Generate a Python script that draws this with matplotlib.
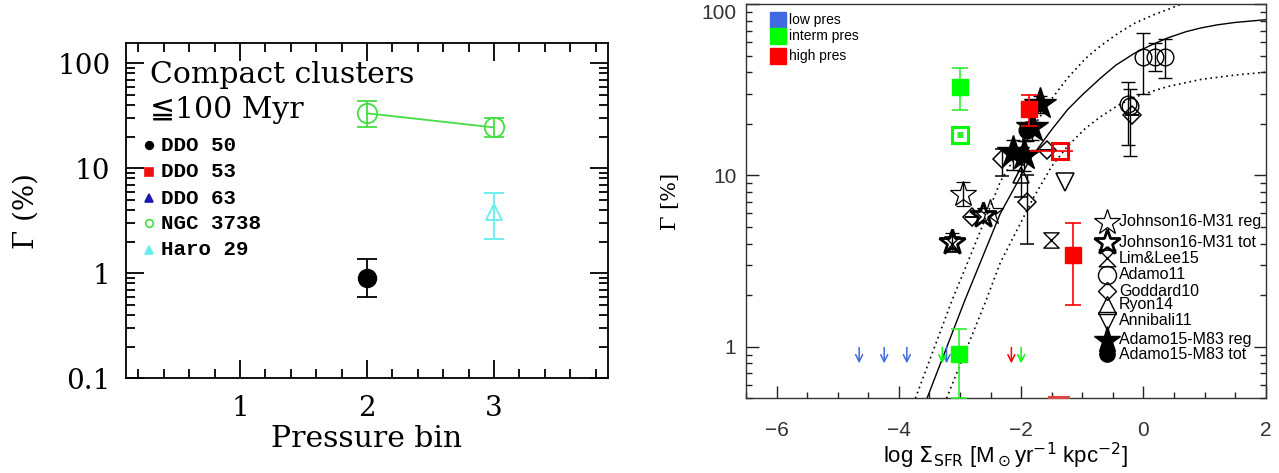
import matplotlib
matplotlib.use("Agg")
import matplotlib.pyplot as plt
from matplotlib.path import Path
from matplotlib.ticker import MultipleLocator, LogLocator, NullFormatter
import numpy as np

# ---- left panel: cluster formation efficiency per pressure bin ----
ngc3738_bin = [2, 3]
ngc3738_gamma = [33.4, 24.5]
ngc3738_lo = [24.9, 19.7]
ngc3738_hi = [43.8, 29.9]

ddo50_bin = [2]
ddo50_gamma = [0.91]
ddo50_lo = [0.59]
ddo50_hi = [1.37]

haro29_bin = [3]
haro29_gamma = [3.86]
haro29_lo = [2.11]
haro29_hi = [5.78]

galaxy_names = ["DDO 50", "DDO 53", "DDO 63", "NGC 3738", "Haro 29"]
galaxy_markers = ["o", "s", "^", "o", "^"]
galaxy_colors = ["black", "#ee1111", "#1a1aaa", "#44dd44", "#66eeee"]
galaxy_filled = [True, True, True, False, True]

left_yticks = [0.1, 1, 10, 100]
left_yticklabels = ["0.1", "1", "10", "100"]
left_xticks = [1, 2, 3]

# ---- right panel: Gamma vs SFR surface density ----
model_x = [-3.54, -2.92, -2.34, -1.85, -1.50, -1.24, -1.00, -0.70, -0.45, -0.15,
           0.10, 0.40, 0.70, 0.94, 1.20, 1.49, 2.0]
model_y = [0.5, 1.87, 6.0, 12.5, 18.5, 24.2, 29.5, 37.0, 44.0, 51.5,
           57.0, 63.5, 69.0, 72.5, 75.5, 78.0, 81.0]
upper_x = [-3.73, -3.13, -2.86, -2.34, -1.79, -1.50, -1.24, -0.95, -0.70, -0.40,
           -0.15, 0.15, 0.40, 0.62]
upper_y = [0.5, 1.87, 3.2, 9.2, 19.4, 28.0, 37.0, 48.0, 57.0, 68.0,
           77.0, 86.0, 93.0, 100.0]
lower_x = [-3.22, -2.58, -2.34, -1.79, -1.50, -1.24, -0.95, -0.70, -0.40, -0.155,
           0.15, 0.40, 0.94, 1.50, 2.0]
lower_y = [0.5, 1.84, 3.1, 7.5, 11.3, 14.8, 18.8, 22.0, 25.8, 28.5,
           31.0, 33.0, 36.3, 38.5, 40.0]

johnson_reg_x = [-2.95, -2.51, -3.13]
johnson_reg_y = [7.8, 6.13, 4.1]
johnson_reg_lo = [6.6, 6.13, 3.6]
johnson_reg_hi = [9.1, 6.13, 4.6]

johnson_tot_x = [-2.62, -3.13]
johnson_tot_y = [5.9, 4.1]

limlee_x = [-1.505, -3.13]
limlee_y = [4.2, 4.0]

adamo11_x = [0.0, 0.19, 0.35, -0.26, -0.22]
adamo11_y = [49.2, 49.2, 49.2, 26.2, 25.5]
adamo11_lo = [29.9, 40.6, 37.2, 15.0, 13.0]
adamo11_hi = [68.0, 59.4, 62.7, 35.2, 32.0]

goddard_x = [-2.80, -2.32, -1.91, -1.57, -0.18]
goddard_y = [5.75, 12.5, 7.0, 14.0, 22.6]
goddard_lo = [5.75, 9.96, 4.0, 14.0, 22.6]
goddard_hi = [5.75, 14.3, 10.1, 14.0, 22.6]

ryon_x = [-2.0]
ryon_y = [10.0]
ryon_lo = [7.5]
ryon_hi = [12.9]

annibali_x = [-1.28]
annibali_y = [9.15]

adamo15_reg_x = [-1.69, -1.82, -2.13, -1.95]
adamo15_reg_y = [26.2, 19.2, 13.6, 13.2]
adamo15_reg_lo = [23.0, 16.0, 10.8, 10.6]
adamo15_reg_hi = [29.0, 20.5, 16.0, 15.8]

adamo15_tot_x = [-1.90]
adamo15_tot_y = [18.3]
adamo15_tot_lo = [15.8]
adamo15_tot_hi = [19.9]

# pressure-binned measurements of this work
interm_x = [-3.0, -3.02]
interm_y = [33.0, 0.91]
interm_lo = [24.2, 0.5]
interm_hi = [42.5, 1.27]
interm_open_x = [-3.0]
interm_open_y = [17.3]
interm_open_lo = [16.9]
interm_open_hi = [17.7]

high_x = [-1.87, -1.16]
high_y = [24.5, 3.44]
high_lo = [19.4, 1.75]
high_hi = [29.4, 5.27]
high_open_x = [-1.37]
high_open_y = [13.8]
high_open_xlo = [-1.86]
high_open_xhi = [-1.15]
high_offscale_x = [-1.38]
high_offscale_y = [0.3]
high_offscale_hi = [0.5]

# upper limits, drawn as arrows
low_lim_x = [-4.65, -4.24, -3.87, -3.22]
interm_lim_x = [-3.29, -2.0]
high_lim_x = [-2.16]
lim_top, lim_bottom = 0.99, 0.80

pres_labels = ["low pres", "interm pres", "high pres"]
pres_colors = ["#4169e1", "#00ff00", "#ff0000"]

right_yticks = [1, 10, 100]
right_yticklabels = ["1", "10", "100"]

LOW_C, INT_C, HIGH_C = pres_colors

hourglass = Path([(-1, 1), (1, 1), (-1, -1), (1, -1), (-1, 1)],
                 [Path.MOVETO, Path.LINETO, Path.LINETO, Path.LINETO, Path.CLOSEPOLY])

SERIF = ["DejaVu Serif", "DejaVu Sans"]
MONO = ["Liberation Mono", "DejaVu Sans Mono"]
SANS = ["Liberation Sans", "DejaVu Sans"]


def err(y, lo, hi):
    y = np.asarray(y, float)
    return [y - np.asarray(lo, float), np.asarray(hi, float) - y]


fig = plt.figure(figsize=(12.79, 4.73), dpi=100)
ax1 = fig.add_axes([0.0983, 0.2002, 0.3773, 0.7095])
ax2 = fig.add_axes([0.5833, 0.1579, 0.4063, 0.8336])

# ================= left panel =================
ax1.plot(ngc3738_bin, ngc3738_gamma, color="#44dd44", lw=1.3, zorder=2)
ax1.errorbar(ngc3738_bin, ngc3738_gamma, yerr=err(ngc3738_gamma, ngc3738_lo, ngc3738_hi),
             fmt="o", ms=14, mfc="none", mec="#44dd44", mew=1.3, ecolor="#44dd44",
             elinewidth=1.3, capsize=7, capthick=1.3, zorder=3)
ax1.errorbar(ddo50_bin, ddo50_gamma, yerr=err(ddo50_gamma, ddo50_lo, ddo50_hi),
             fmt="o", ms=13, color="black", ecolor="black", elinewidth=1.3,
             capsize=7, capthick=1.3, zorder=3)
ax1.errorbar(haro29_bin, haro29_gamma, yerr=err(haro29_gamma, haro29_lo, haro29_hi),
             fmt="^", ms=12, mfc="none", mec="#66eeee", mew=1.3, ecolor="#66eeee",
             elinewidth=1.3, capsize=7, capthick=1.3, zorder=3)

ax1.set_yscale("log")
ax1.set_xlim(0.1, 3.9)
ax1.set_ylim(0.1, 157)
ax1.set_xticks(left_xticks)
ax1.xaxis.set_minor_locator(MultipleLocator(0.2))
ax1.set_yticks(left_yticks)
ax1.set_yticklabels(left_yticklabels)
ax1.yaxis.set_minor_locator(LogLocator(base=10, subs=np.arange(2, 10)))
ax1.yaxis.set_minor_formatter(NullFormatter())
ax1.tick_params(which="both", direction="in", top=True, right=True, width=1.3)
ax1.tick_params(which="major", length=13)
ax1.tick_params(which="minor", length=6.5)
ax1.tick_params(axis="x", which="major", pad=12)
ax1.tick_params(axis="y", which="major", pad=11)
for lab in ax1.get_xticklabels() + ax1.get_yticklabels():
    lab.set_family(SERIF)
    lab.set_fontsize(20)
for sp in ax1.spines.values():
    sp.set_linewidth(1.3)

ax1.set_xlabel("Pressure bin", family=SERIF, fontsize=21.5)
ax1.xaxis.set_label_coords(0.5, -0.14)
ax1.set_ylabel("Γ (%)", family=SERIF, fontsize=20)
ax1.yaxis.set_label_coords(-0.178, 0.5)

ax1.text(0.05, 0.88, "Compact clusters", transform=ax1.transAxes, family=SERIF,
         fontsize=21.5, va="baseline")
ax1.text(0.05, 0.776, "≦100 Myr", transform=ax1.transAxes, family=SERIF,
         fontsize=21.5, va="baseline")

rows = [0.695, 0.616, 0.537, 0.462, 0.383]
for name, mk, c, filled, fy in zip(galaxy_names, galaxy_markers, galaxy_colors,
                                    galaxy_filled, rows):
    ax1.plot([0.049], [fy], marker=mk, ms=5.5, transform=ax1.transAxes,
             mfc=c if filled else "none", mec=c, mew=1.2, ls="none", clip_on=False)
    ax1.text(0.0725, fy, name, transform=ax1.transAxes, family=MONO,
             fontweight="bold", fontsize=15, va="center")

# ================= right panel =================
ax2.plot(model_x, model_y, color="black", lw=1.0, zorder=1)
ax2.plot(upper_x, upper_y, color="black", lw=1.2, ls=(0, (1, 2.2)), zorder=1)
ax2.plot(lower_x, lower_y, color="black", lw=1.2, ls=(0, (1, 2.2)), zorder=1)

black = dict(color="black", ecolor="black", elinewidth=1.0, capsize=5, capthick=1.0, ls="none")

ax2.errorbar(goddard_x, goddard_y, yerr=err(goddard_y, goddard_lo, goddard_hi),
             marker="D", ms=9, mfc="none", mew=1.1, zorder=3, **black)
ax2.errorbar(adamo11_x, adamo11_y, yerr=err(adamo11_y, adamo11_lo, adamo11_hi),
             marker="o", ms=12, mfc="none", mew=1.0, zorder=3, **black)
ax2.errorbar(ryon_x, ryon_y, yerr=err(ryon_y, ryon_lo, ryon_hi),
             marker="^", ms=12, mfc="none", mew=1.1, zorder=3, **black)
ax2.plot(annibali_x, annibali_y, marker="v", ms=13, mfc="none", mec="black",
         mew=1.1, ls="none", zorder=3)
ax2.plot(limlee_x, limlee_y, marker=hourglass, ms=11, mfc="none", mec="black",
         mew=1.0, ls="none", zorder=3)
ax2.errorbar(johnson_reg_x, johnson_reg_y, yerr=err(johnson_reg_y, johnson_reg_lo, johnson_reg_hi),
             marker="*", ms=19, mfc="none", mew=0.9, zorder=3, **black)
ax2.plot(johnson_tot_x, johnson_tot_y, marker="*", ms=19, mfc="none", mec="black",
         mew=2.0, ls="none", zorder=3)
ax2.errorbar(adamo15_reg_x, adamo15_reg_y, yerr=err(adamo15_reg_y, adamo15_reg_lo, adamo15_reg_hi),
             marker="*", ms=24, zorder=4, **black)
ax2.errorbar(adamo15_tot_x, adamo15_tot_y, yerr=err(adamo15_tot_y, adamo15_tot_lo, adamo15_tot_hi),
             marker="o", ms=12, zorder=4, **black)

# pressure bins
ax2.errorbar(interm_x, interm_y, yerr=err(interm_y, interm_lo, interm_hi),
             fmt="s", ms=11, color=INT_C, ecolor="#33ee33", elinewidth=1.2,
             capsize=6, capthick=1.2, zorder=5)
ax2.errorbar(interm_open_x, interm_open_y, yerr=err(interm_open_y, interm_open_lo, interm_open_hi),
             fmt="s", ms=11, mfc="none", mec=INT_C, mew=2.2, ecolor="#33ee33",
             elinewidth=1.2, capsize=2, zorder=5)
ax2.errorbar(high_x, high_y, yerr=err(high_y, high_lo, high_hi),
             fmt="s", ms=11, color=HIGH_C, ecolor=HIGH_C, elinewidth=1.2,
             capsize=6, capthick=1.2, zorder=5)
ax2.errorbar(high_open_x, high_open_y,
             xerr=[np.subtract(high_open_x, high_open_xlo), np.subtract(high_open_xhi, high_open_x)],
             fmt="s", ms=12, mfc="none", mec=HIGH_C, mew=2.2, ecolor=HIGH_C,
             elinewidth=1.2, zorder=5)
ax2.errorbar(high_offscale_x, high_offscale_y,
             yerr=[[0], np.subtract(high_offscale_hi, high_offscale_y)],
             fmt="none", ecolor="#dd4444", elinewidth=1.2, capsize=8, capthick=3, zorder=5)

for xs, c in [(low_lim_x, LOW_C), (interm_lim_x, INT_C), (high_lim_x, HIGH_C)]:
    for x in xs:
        ax2.annotate("", xy=(x, lim_bottom), xytext=(x, lim_top),
                     arrowprops=dict(arrowstyle="->,head_width=0.25,head_length=0.5",
                                     color=c, lw=1.1, shrinkA=0, shrinkB=0), zorder=5)

ax2.set_yscale("log")
ax2.set_xlim(-6.5, 2)
ax2.set_ylim(0.5, 100)
ax2.xaxis.set_major_locator(MultipleLocator(2))
ax2.xaxis.set_minor_locator(MultipleLocator(0.5))
ax2.set_yticks(right_yticks)
ax2.set_yticklabels(right_yticklabels)
ax2.yaxis.set_minor_locator(LogLocator(base=10, subs=np.arange(2, 10)))
ax2.yaxis.set_minor_formatter(NullFormatter())
ax2.tick_params(which="both", direction="in", top=False, right=True, width=1.0,
                colors="#222222", labelcolor="#333333")
ax2.tick_params(which="major", length=9)
ax2.tick_params(which="minor", length=4.5)
ax2.tick_params(axis="x", which="major", pad=16)
ax2.tick_params(axis="y", which="major", pad=7)
for lab in ax2.get_xticklabels() + ax2.get_yticklabels():
    lab.set_family(SANS)
    lab.set_fontsize(15)
# the top label would poke above the figure, so hang it below its tick
ax2.get_yticklabels()[-1].set_va("top")
for sp in ax2.spines.values():
    sp.set_linewidth(1.0)
    sp.set_color("#333333")

ax2.set_xlabel(r"log $\Sigma_{\rm SFR}$ [M$_\odot$yr$^{-1}$ kpc$^{-2}$]", family=SANS, fontsize=16)
ax2.xaxis.set_label_coords(0.5, -0.108)
ax2.set_ylabel("Γ [%]", family=SERIF, fontsize=15)
ax2.yaxis.set_label_coords(-0.127, 0.5)

# colour key for pressure bins
for lab, c, fy in zip(pres_labels, pres_colors, [0.960, 0.918, 0.869]):
    ax2.plot([0.0606], [fy], marker="s", ms=11, color=c, transform=ax2.transAxes, ls="none")
    ax2.text(0.0833, fy, lab, transform=ax2.transAxes, family=SANS, fontsize=10, va="center")

# symbol key for literature samples
key = [
    ("Johnson16-M31 reg", dict(marker="*", ms=19, mfc="none", mew=0.9)),
    ("Johnson16-M31 tot", dict(marker="*", ms=19, mfc="none", mew=2.0)),
    ("Lim&Lee15", dict(marker=hourglass, ms=12, mfc="none", mew=1.0)),
    ("Adamo11", dict(marker="o", ms=13, mfc="none", mew=1.0)),
    ("Goddard10", dict(marker="D", ms=9, mfc="none", mew=1.0)),
    ("Ryon14", dict(marker="^", ms=13, mfc="none", mew=1.0)),
    ("Annibali11", dict(marker="v", ms=13, mfc="none", mew=1.0)),
    ("Adamo15-M83 reg", dict(marker="*", ms=20)),
    ("Adamo15-M83 tot", dict(marker="o", ms=11)),
]
key_rows = [0.448, 0.396, 0.355, 0.313, 0.272, 0.237, 0.197, 0.148, 0.112]
for (lab, kw), fy in zip(key, key_rows):
    ax2.plot([0.695], [fy], color="black", mec="black", ls="none",
             transform=ax2.transAxes, zorder=6, **kw)
    ax2.text(0.718, fy, lab, transform=ax2.transAxes, family=SANS, fontsize=11.5,
             va="center", zorder=6)

fig.savefig("out.png", dpi=100)
